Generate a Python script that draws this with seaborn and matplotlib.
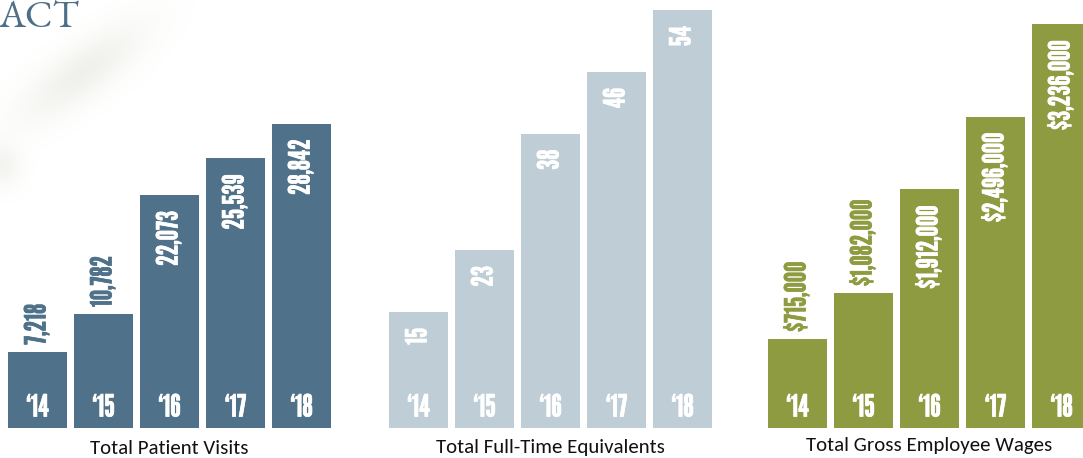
import matplotlib
matplotlib.use("Agg")
import matplotlib.pyplot as plt
import matplotlib.patheffects as pe
import numpy as np
import seaborn as sns
from matplotlib import font_manager as fm

# ---- data -------------------------------------------------------------
years = ["\u201814", "\u201815", "\u201816", "\u201817", "\u201818"]
patient_visits = [7218, 10782, 22073, 25539, 28842]
full_time_equivalents = [15, 23, 38, 46, 54]
gross_wages = [715000, 1082000, 1912000, 2496000, 3236000]
panel_titles = ["Total Patient Visits", "Total Full-Time Equivalents",
                "Total Gross Employee Wages"]
heading = "ACT"

# ---- fonts --------------------------------------------------------------
installed = {f.name for f in fm.fontManager.ttflist}


def pick(*names):
    for n in names:
        if n in installed:
            return n
    return "DejaVu Sans"


GOTHIC = pick("League Gothic", "Oswald", "Antonio", "DejaVu Sans")
BODY = pick("Carlito", "Open Sans", "DejaVu Sans")
SERIF = pick("EB Garamond", "Cormorant Garamond", "Liberation Serif")

sns.set_theme(style="white")
plt.rcParams["font.family"] = [BODY, "DejaVu Sans"]

W, H, DPI = 1083, 458, 100
fig = plt.figure(figsize=(W / DPI, H / DPI), dpi=DPI)
fig.patch.set_facecolor("white")

# ---- soft smudge in the upper-left background --------------------------
bg = fig.add_axes([0, 0, 1, 1], zorder=-5)
bg.set_xlim(0, W)
bg.set_ylim(H, 0)
bg.axis("off")
yy, xx = np.mgrid[0:220, 0:220].astype(float)
d = np.array([115.0, -85.0]); d /= np.linalg.norm(d)
px, py = xx - 82, yy - 72
along = px * d[0] + py * d[1]
across = -px * d[1] + py * d[0]
alpha = 0.15 * np.exp(-0.5 * ((along / 50) ** 2 + (across / 17) ** 2))
alpha += 0.11 * np.exp(-0.5 * (((xx - 2) / 13) ** 2 + ((yy - 165) / 15) ** 2))
smudge = np.zeros((220, 220, 4))
smudge[..., 0], smudge[..., 1], smudge[..., 2] = 0.60, 0.60, 0.50
smudge[..., 3] = np.clip(alpha, 0, 1)
bg.imshow(smudge, extent=(0, 220, 220, 0), interpolation="bilinear", aspect="auto")

fig.text(-2 / W, 1 - 27 / H, heading, family=SERIF, fontsize=28, weight="semibold",
         color="#4d6f88", ha="left", va="baseline")

# ---- panels -------------------------------------------------------------
BASE = 428          # pixel row of the bar baseline (from top)
STEP = 66           # pixel distance between bar centres
panels = [
    dict(values=patient_visits, fmt="{:,}", color="#4f7189", first=37.5,
         ymax=40550, n_out=2, title_y=448),
    dict(values=full_time_equivalents, fmt="{:,}", color="#bfcdd6", first=418.5,
         ymax=55.28, n_out=0, title_y=448),
    dict(values=gross_wages, fmt="${:,}", color="#8f9b40", first=797.5,
         ymax=3.43e6, n_out=2, title_y=446),
]

pt = 72 / DPI  # points per pixel
LABEL_SIZE = 21


def bold(color):
    return [pe.withStroke(linewidth=0.5, foreground=color)]


for p, title in zip(panels, panel_titles):
    left = p["first"] - STEP / 2
    ax = fig.add_axes([left / W, (H - BASE) / H, 5 * STEP / W, BASE / H])
    sns.barplot(x=years, y=p["values"], ax=ax, color=p["color"], saturation=1,
                width=0.894, edgecolor="none", linewidth=0)
    ax.set_xlim(-0.5, 4.5)
    ax.set_ylim(0, p["ymax"])
    ax.axis("off")
    for i, (yr, v) in enumerate(zip(years, p["values"])):
        ax.annotate(yr, xy=(i, 0), xytext=(0, 20 * pt), textcoords="offset points",
                    ha="center", va="center", family=GOTHIC, fontsize=LABEL_SIZE + 1,
                    color="white", path_effects=bold("white"), annotation_clip=False)
        label = p["fmt"].format(v)
        if i < p["n_out"]:
            ax.annotate(label, xy=(i, v), xytext=(0, 7 * pt), textcoords="offset points",
                        ha="center", va="bottom", rotation=90, family=GOTHIC,
                        fontsize=LABEL_SIZE, color=p["color"],
                        path_effects=bold(p["color"]), annotation_clip=False)
        else:
            ax.annotate(label, xy=(i, v), xytext=(0, -16 * pt), textcoords="offset points",
                        ha="center", va="top", rotation=90, family=GOTHIC,
                        fontsize=LABEL_SIZE, color="white",
                        path_effects=bold("white"), annotation_clip=False)
    ax.annotate(title, xy=(2, 0), xycoords="data",
                xytext=(0, -(p["title_y"] - BASE) * pt), textcoords="offset points",
                ha="center", va="center", family=[BODY, "DejaVu Sans"], fontsize=15,
                color="#111111", annotation_clip=False)

fig.savefig("out.png", dpi=DPI, facecolor="white")
